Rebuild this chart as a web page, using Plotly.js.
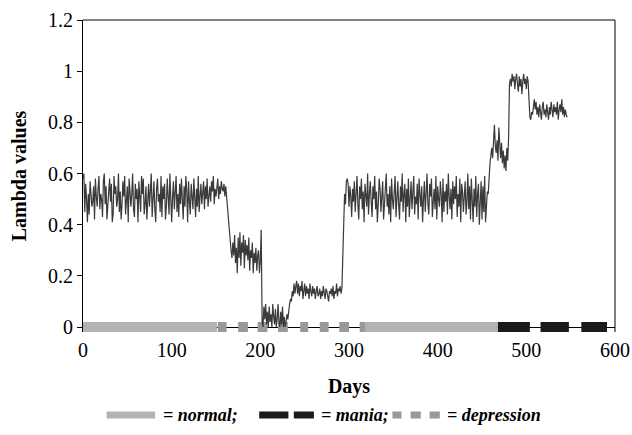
<!DOCTYPE html>
<html>
<head>
<meta charset="utf-8">
<script src="https://cdn.plot.ly/plotly-3.0.1.min.js"></script>
<style>html,body{margin:0;padding:0;background:#fff;}#chart{width:632px;height:435px;}</style>
</head>
<body>
<div id="chart"></div>
<script>
// Daily lambda values, day 0 .. 546
const lambdaValues = [
  // days 0-161: normal, ~0.40-0.60
  .58,.60,.45,.56,.50,.41,.52,.44,.57,.53,
  .47,.49,.55,.42,.58,.51,.47,.54,.59,.46,
  .52,.50,.43,.57,.60,.48,.55,.42,.46,.53,
  .58,.49,.56,.41,.44,.59,.52,.55,.47,.50,
  .60,.45,.53,.42,.48,.57,.51,.59,.44,.49,
  .55,.41,.58,.53,.47,.52,.60,.46,.43,.56,
  .50,.54,.41,.57,.49,.45,.59,.52,.58,.44,
  .48,.55,.42,.51,.56,.47,.53,.60,.43,.50,
  .57,.46,.41,.54,.58,.49,.52,.45,.59,.43,
  .55,.50,.56,.42,.47,.58,.53,.44,.60,.49,
  .41,.51,.57,.46,.54,.59,.45,.52,.43,.56,
  .48,.58,.50,.42,.55,.47,.59,.53,.41,.57,
  .49,.44,.56,.52,.46,.58,.50,.43,.54,.47,
  .59,.45,.51,.56,.48,.53,.57,.46,.55,.50,
  .58,.47,.52,.55,.49,.57,.53,.59,.48,.54,
  .51,.56,.58,.50,.55,.52,.57,.54,.53,.56,
  .51,.55,
  // days 162-169: decline
  .50,.46,.42,.38,.34,.30,.27,.33,
  // days 170-200: ~0.21-0.37
  .28,.36,.25,.31,.21,.35,.27,.37,.24,.33,
  .29,.36,.23,.34,.28,.32,.26,.35,.22,.30,
  .27,.33,.21,.29,.25,.31,.22,.28,.30,.21,
  .26,
  // days 201-202
  .38,.02,
  // days 203-232: ~0-0.09
  .00,.08,.03,.09,.01,.06,.00,.08,.02,.05,
  .00,.09,.04,.01,.07,.00,.03,.09,.02,.00,
  .06,.01,.08,.00,.04,.00,.02,.05,.03,.07,
  // days 233-240: rise
  .09,.11,.10,.14,.12,.17,.13,.16,
  // days 241-292: ~0.11-0.18
  .18,.13,.17,.12,.16,.14,.18,.11,.15,.17,
  .12,.16,.13,.15,.11,.17,.14,.12,.16,.13,
  .15,.11,.14,.16,.12,.13,.15,.11,.14,.12,
  .16,.13,.11,.15,.14,.12,.10,.14,.13,.15,
  .12,.16,.11,.14,.13,.17,.12,.15,.14,.16,
  .13,.15,
  // days 293-297: jump
  .25,.40,.52,.48,.57,
  // days 298-456: ~0.40-0.60
  .58,.56,.47,.55,.51,.43,.54,.49,.57,.45,
  .52,.59,.48,.42,.55,.50,.58,.46,.53,.41,
  .56,.51,.47,.60,.44,.52,.57,.49,.43,.55,
  .50,.59,.46,.53,.41,.48,.58,.54,.45,.51,
  .57,.42,.49,.56,.60,.47,.52,.44,.55,.41,
  .58,.50,.46,.53,.59,.43,.51,.57,.48,.42,
  .55,.49,.60,.45,.52,.56,.41,.54,.47,.58,
  .43,.50,.57,.46,.53,.59,.44,.51,.48,.56,
  .42,.58,.52,.47,.55,.41,.50,.57,.45,.53,
  .60,.48,.44,.56,.51,.58,.43,.49,.54,.46,
  .59,.42,.55,.50,.47,.57,.52,.41,.58,.45,
  .53,.49,.56,.44,.60,.51,.46,.54,.42,.57,
  .48,.55,.50,.59,.43,.52,.47,.58,.41,.56,
  .53,.45,.51,.57,.44,.49,.60,.46,.55,.42,
  .58,.50,.41,.54,.47,.59,.43,.52,.56,.40,
  .48,.57,.42,.55,.45,.59,.41,.51,.53,
  // days 457-480: ~0.61-0.79
  .52,.60,.64,.67,.70,.66,.74,.79,.71,.68,
  .73,.65,.78,.70,.66,.72,.64,.69,.62,.67,
  .61,.70,.65,.74,
  // days 481-502: ~0.91-0.99
  .95,.97,.94,.99,.96,.98,.93,.97,.99,.95,
  .92,.98,.94,.97,.91,.96,.99,.95,.97,.93,
  .98,.96,
  // days 503-504
  .88,.82,
  // days 505-546: ~0.81-0.89
  .81,.84,.83,.87,.89,.85,.88,.83,.86,.82,
  .87,.84,.81,.86,.88,.83,.85,.82,.87,.84,
  .81,.86,.83,.88,.85,.82,.87,.84,.86,.83,
  .88,.81,.85,.87,.84,.89,.83,.86,.82,.85,
  .83,.82
];
const days = lambdaValues.map((v, i) => i);

// Clinical phase segments along the day axis [start, end]
const normalStarts = [0, 318];
const normalEnds   = [151, 468];
const depressionStarts = [152, 175, 197, 220, 245, 267, 289, 312];
const depressionEnds   = [162, 186, 208, 231, 254, 277, 300, 318];
const maniaStarts = [468, 516, 562];
const maniaEnds   = [504, 548, 591];

const xTicks = [0, 100, 200, 300, 400, 500, 600];
const yTicks = [0, 0.2, 0.4, 0.6, 0.8, 1, 1.2];
const yTickText = ['0', '0.2', '0.4', '0.6', '0.8', '1', '1.2'];

function segTrace(starts, ends, color) {
  const x = [], y = [];
  starts.forEach((s, i) => { x.push(s, ends[i], null); y.push(0, 0, null); });
  return {x: x, y: y, type: 'scatter', mode: 'lines', line: {color: color, width: 10}, hoverinfo: 'skip', showlegend: false};
}

const serif = 'Liberation Serif, Times New Roman, serif';
const traces = [
  segTrace(normalStarts, normalEnds, '#b3b3b3'),
  segTrace(depressionStarts, depressionEnds, '#999999'),
  segTrace(maniaStarts, maniaEnds, '#1a1a1a'),
  {x: days, y: lambdaValues, type: 'scatter', mode: 'lines', line: {color: '#3a3a3a', width: 1.2}, showlegend: false}
];

const px = v => (v - 83) / 532;
const py = v => (332 - v) / 312;
const sw = (a, b, c) => ({type: 'rect', xref: 'paper', yref: 'paper', x0: px(a), x1: px(b), y0: py(418.5), y1: py(411.5), fillcolor: c, line: {width: 0}});
const legText = (x, t) => ({xref: 'paper', yref: 'paper', x: px(x), y: py(415), xanchor: 'left', yanchor: 'middle', showarrow: false,
  text: '<b><i>' + t + '</i></b>', font: {family: serif, size: 18, color: '#000'}});

const layout = {
  width: 632, height: 435,
  margin: {l: 83, r: 17, t: 20, b: 103},
  paper_bgcolor: '#fff', plot_bgcolor: '#fff',
  showlegend: false,
  font: {family: serif, color: '#000', size: 20},
  xaxis: {
    range: [0, 600], tickvals: xTicks, ticktext: xTicks.map(String),
    showgrid: false, zeroline: false, showline: false, ticks: '',
    ticklabelstandoff: 4,
    tickfont: {family: serif, size: 20, color: '#000'},
    title: {text: '<b>Days</b>', font: {family: serif, size: 20, color: '#000'}, standoff: 18}
  },
  yaxis: {
    range: [-0.0195, 1.2], tickvals: yTicks, ticktext: yTickText,
    showgrid: false, zeroline: true, zerolinecolor: '#000', zerolinewidth: 1,
    showline: true, linecolor: '#000', linewidth: 1,
    ticks: 'outside', ticklen: 5, tickcolor: '#000',
    tickfont: {family: serif, size: 20, color: '#000'},
    title: {text: '<b>Lambda values</b>', font: {family: serif, size: 20, color: '#000'}, standoff: 16}
  },
  shapes: [
    {type: 'line', xref: 'paper', yref: 'paper', x0: 0, x1: 1, y0: 1, y1: 1, line: {color: '#000', width: 1}},
    {type: 'line', xref: 'paper', yref: 'y', x0: 1, x1: 1, y0: -0.0195, y1: 1.2, line: {color: '#000', width: 1}},
    sw(106.6, 155.1, '#b3b3b3'),
    sw(259.2, 288.4, '#1a1a1a'),
    sw(293.8, 313.9, '#1a1a1a'),
    sw(392.4, 401.5, '#999999'),
    sw(410.6, 420.8, '#999999'),
    sw(429.6, 439.8, '#999999')
  ],
  annotations: [
    legText(160.6, '= normal;'),
    legText(319.4, '= mania;'),
    legText(445.3, '= depression')
  ]
};

Plotly.newPlot('chart', traces, layout, {staticPlot: true, displayModeBar: false});
</script>
</body>
</html>
